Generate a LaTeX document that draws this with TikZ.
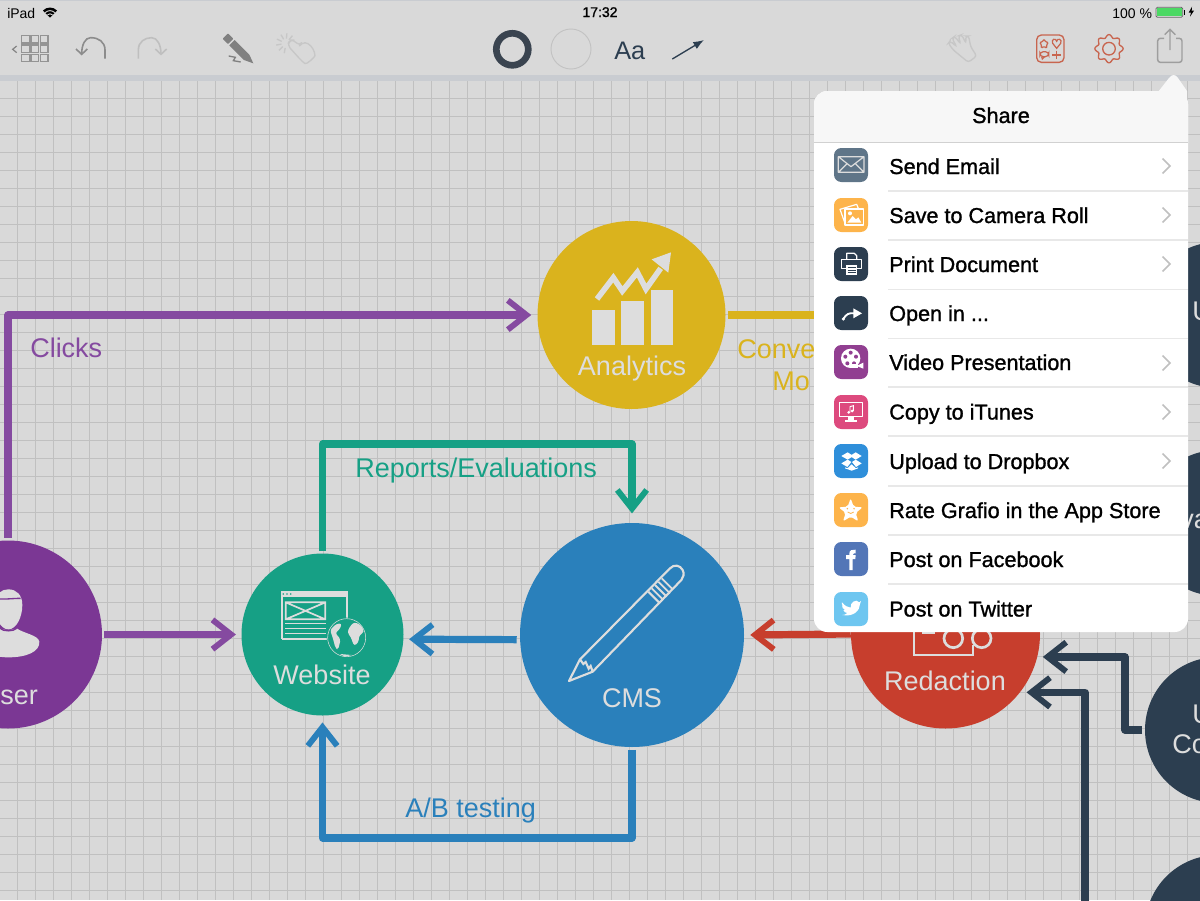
\documentclass[tikz,border=0pt]{standalone}
\usepackage{fontspec}
\setmainfont{Liberation Sans}
\newfontfamily\medf[FakeBold=1.2]{Liberation Sans}
\usetikzlibrary{arrows.meta}
\definecolor{bgc}{HTML}{D9D9D9}
\definecolor{gridc}{HTML}{C0C0C0}
\definecolor{bandc}{HTML}{C9CCD1}
\definecolor{purp}{HTML}{7B3794}
\definecolor{purl}{HTML}{854AA0}
\definecolor{gree}{HTML}{16A085}
\definecolor{yell}{HTML}{DAB31D}
\definecolor{blu}{HTML}{2A80BB}
\definecolor{redd}{HTML}{C73E2D}
\definecolor{dark}{HTML}{2C3E50}
\definecolor{lite}{HTML}{DDDDDD}
\definecolor{ored}{HTML}{C8654F}
\definecolor{orng}{HTML}{FDB44B}
\definecolor{battg}{HTML}{4CD964}
\definecolor{icmail}{HTML}{5F7588}
\definecolor{icvid}{HTML}{913F91}
\definecolor{ictun}{HTML}{DD4A7E}
\definecolor{icdrop}{HTML}{2F8FDA}
\definecolor{icfb}{HTML}{5376B7}
\definecolor{ictw}{HTML}{6EC6F0}
\definecolor{head}{HTML}{F7F7F7}
\definecolor{ringc}{HTML}{3A4450}
\tikzset{
 conn/.style={line width=5.4pt,line join=round,line cap=butt,-{Straight Barb[length=14pt,width=22pt,line width=4.4pt]}},
 plain/.style={line width=5.4pt,line join=round},
 bubble/.style={circle,inner sep=0pt},
 lab/.style={inner sep=0pt,anchor=base,text=lite,font=\fontsize{20.25}{24}\selectfont},
 clab/.style={inner sep=0pt,anchor=base west,font=\fontsize{20.25}{24}\selectfont},
 rowt/.style={inner sep=0pt,anchor=base west,text=black,font=\medf\fontsize{16.2}{18}\selectfont},
 stat/.style={inner sep=0pt,anchor=base west,text=black,font=\fontsize{10.5}{12}\selectfont},
 ico/.style={line width=.9pt,draw=white,line join=round},
 za/.style={shift={(0,0)},x=.25pt,y=-.25pt},
 zb/.style={shift={(440,0)},x=.25pt,y=-.25pt},
 zc/.style={shift={(900,0)},x=.25pt,y=-.25pt},
 zd/.style={shift={(810,140)},x=.25pt,y=-.25pt},
 ze/.style={shift={(810,385)},x=.25pt,y=-.25pt},
}
\newcommand\icbg[2]{\fill[#1,rounded corners=5.5pt] (834,#2-17) rectangle (868,#2+17);}
\newcommand\chev[1]{\draw[gridc,line width=1.3pt] (1162.5,#1-7.5) -- (1170,#1) -- (1162.5,#1+7.5);}
\begin{document}
\begin{tikzpicture}[x=.75pt,y=-.75pt]
\useasboundingbox (0,0) rectangle (1200,900);
\clip (0,0) rectangle (1200,900);
\fill[bgc] (0,0) rectangle (1200,900);
% grid
\foreach \k in {0,...,66} {\draw[gridc,line width=1pt] ({17.4+18*\k},80) -- ({17.4+18*\k},900);}
\foreach \k in {0,...,44} {\draw[gridc,line width=1pt] (0,{98.4+18*\k}) -- (1200,{98.4+18*\k});}
% toolbar
\fill[bgc] (0,0) rectangle (1200,75);
\fill[bandc] (0,75) rectangle (1200,81);
\fill[bandc] (0,0) rectangle (1200,1);
% status bar
\node[stat] (ipad) at (7,18) {iPad};
\fill[black] (50,17.5) -- (43,10.5) .. controls (47,6.5) and (53,6.5) .. (57,10.5) -- cycle;
\draw[bgc,line width=.7pt] (45.3,12.6) .. controls (48,10) and (52,10) .. (54.7,12.6);
\draw[bgc,line width=.7pt] (47.5,14.8) .. controls (49,13.5) and (51,13.5) .. (52.5,14.8);
\node[stat,anchor=base,font=\medf\fontsize{10.5}{12}\selectfont] (clock) at (600,17) {17:32};
\node[stat] (pct) at (1112,18) {100 \%};
\begin{scope}[zc]
\draw[black!60,line width=.6pt,rounded corners=1pt] (768,22) rectangle (848,52);
\fill[battg] (771,25) rectangle (845,49);
\fill[black] (851,30) rectangle (855,44);
\fill[black] (876,20) -- (866,38) -- (873,38) -- (870,50) -- (882,32) -- (875,32) -- cycle;
\end{scope}
% left toolbar icons
\begin{scope}[za]
\foreach \a in {65,93,121} {\foreach \b in {107,135,163} {
  \draw[black!42,line width=1.1pt] (\a,\b) rectangle ++(23,22);}}
\draw[black!48,line width=.9pt] (50,138) -- (38,148) -- (50,158);
\draw[black!45,line width=1.2pt] (315,176) -- (315,150) .. controls (315,125) and (295,113) .. (272,113) .. controls (255,113) and (245,135) .. (245,162);
\draw[black!45,line width=1.2pt] (228,147) -- (245,163) -- (262,147);
\draw[black!25,line width=1.2pt] (415,176) -- (415,150) .. controls (415,125) and (435,113) .. (455,113) .. controls (472,113) and (483,135) .. (483,162);
\draw[black!25,line width=1.2pt] (466,147) -- (483,163) -- (500,147);
\fill[black!50,rounded corners=.5pt] (668,116) -- (684,100) -- (700,116) -- (684,132) -- cycle;
\fill[black!50] (688,136) -- (704,120) -- (748,164) -- (760,190) -- (732,180) -- cycle;
\draw[black!50,line width=1pt] (686,168) -- (706,172) -- (700,182) -- (722,186);
\draw[black!22,line width=1pt,line join=round,rounded corners=3pt] (862,135) -- (905,183) .. controls (920,195) and (945,170) .. (945,155) -- (925,128) -- (905,128) -- (898,138) -- (882,120) -- (870,120) -- cycle;
\foreach \a in {100,135,170,205,240,275,310} {
  \draw[black!22,line width=1pt] (858,130) ++(\a:14) -- ++(\a:16);}
\end{scope}
% center toolbar
\node[bubble,minimum size=24pt,line width=5pt,draw=ringc] (ring) at (512.3,49.3) {};
\node[bubble,minimum size=30pt,line width=.7pt,draw=black!24] (fillb) at (571,49) {};
\node[clab,text=dark,font=\fontsize{19}{22}\selectfont] (aa) at (614,59.5) {Aa};
\draw[dark,line width=1pt,-{Latex[length=8pt,width=6pt]}] (672.3,59) -- (704,40);
% right toolbar
\begin{scope}[zc]
\draw[black!22,line width=1pt,rounded corners=2pt] (205,187) -- (160,150) -- (145,130) -- (150,123) -- (170,140) -- (156,115) -- (164,109) -- (182,132) -- (175,108) -- (185,104) -- (198,130) -- (197,108) -- (206,108) -- (212,140) -- (230,168) -- cycle;
\draw[ored,line width=1pt,rounded corners=3.5pt] (410,105) rectangle (492,187);
\draw[ored,line width=.9pt,rounded corners=1pt] (432,116) -- (436,126) -- (446,127) -- (439,134) -- (441,145) -- (432,139) -- (423,145) -- (425,134) -- (418,127) -- (428,126) -- cycle;
\draw[ored,line width=.9pt] (470,145) -- (458,130) .. controls (452,118) and (468,112) .. (470,124) .. controls (472,112) and (488,118) .. (482,130) -- cycle;
\draw[ored,line width=.9pt,rounded corners=2.5pt] (420,155) rectangle (446,170);
\draw[ored,line width=.9pt] (425,170) -- (427,177) -- (434,170);
\draw[ored,line width=.9pt] (469,152) -- (469,178) (456,165) -- (482,165);
\end{scope}
\begin{scope}[shift={(1109,48.7)}]
\draw[ored,line width=1pt,smooth,samples=121,domain=0:360] plot (\x:{12.6+1.5*cos(8*\x)});
\draw[ored,line width=1pt] (0,0) circle (6.3);
\end{scope}
\begin{scope}[zc]
\draw[black!38,line width=1.1pt,rounded corners=2pt] (792,115) -- (773,115) -- (773,187) -- (846,187) -- (846,115) -- (828,115);
\draw[black!38,line width=1.1pt] (810,150) -- (810,88) (794,104) -- (810,88) -- (826,104);
\end{scope}
% diagram nodes
\node[bubble,minimum size=141pt,fill=yell] (analytics) at (631.5,315) {};
\node[bubble,minimum size=168pt,fill=blu] (cms) at (632,635) {};
\node[bubble,minimum size=121.5pt,fill=gree] (website) at (322.5,634.5) {};
\node[bubble,minimum size=141pt,fill=purp] (user) at (8,634.5) {};
\node[bubble,minimum size=141.75pt,fill=redd] (redaction) at (945.5,634) {};
\node[bubble,minimum size=109.5pt,fill=dark] (ua) at (1218,315) {};
\node[bubble,minimum size=109.5pt,fill=dark] (ub) at (1218,523) {};
\node[bubble,minimum size=109.5pt,fill=dark] (uc) at (1218,730) {};
\node[bubble,minimum size=109.5pt,fill=dark] (ud) at (1218,928) {};
% connectors
\coordinate (gt) at (632,444);
\coordinate (bt) at (632,838);
\coordinate (ra) at (1125,730);
\coordinate (dz) at (1085,905);
\draw[conn,purl,shorten <=2pt,shorten >=4.5pt] (user.north) |- (analytics.west);
\draw[conn,purl,shorten <=1.5pt,shorten >=4pt] (user.east) -- (website.west);
\draw[conn,gree,shorten <=2pt,shorten >=7pt] (website.north) |- (gt) -- (cms.north);
\draw[conn,blu,shorten <=2.25pt,shorten >=4pt] ([yshift=-3.5pt]cms.west) -- ([yshift=-3.5pt]website.east);
\draw[conn,blu,shorten <=2pt,shorten >=5pt] (cms.south) -- (bt) -| (website.south);
\draw[conn,redd,shorten >=4.5pt] (redaction.west) -- (cms.east);
\draw[plain,yell,shorten <=2pt] (analytics.east) -- (ua.west);
\draw[conn,dark,shorten <=2pt,shorten >=4pt] (uc.west) -- (ra) |- (redaction.-14);
\draw[conn,dark,shorten >=4.8pt] (dz) |- (redaction.-38.6);
% connector labels
\node[clab,text=purl] (clicks) at (30,357) {Clicks};
\node[clab,text=gree] (reports) at (355,477) {Reports/Evaluations};
\node[clab,text=blu] (abt) at (405,817) {A/B testing};
\node[clab,text=yell] (conve) at (737,358.5) {Conve};
\node[clab,text=yell] (mo) at (772,390) {Mo};
% circle labels
\node[lab] (lana) at (632,375.5) {Analytics};
\node[lab] (lweb) at (322,684.5) {Website};
\node[lab] (lcms) at (632,707.5) {CMS};
\node[lab] (lred) at (945,690) {Redaction};
\node[lab,anchor=base west] (luse) at (0,704.5) {ser};
\node[lab,anchor=base west] (lua) at (1192,320) {U};
\node[lab,anchor=base west] (lub) at (1180,528) {va};
\node[lab,anchor=base west] (luc) at (1192,723) {U};
\node[lab,anchor=base west] (lud) at (1172,753) {Co};
% analytics icon
\begin{scope}[shift={(530,215)},x=.25pt,y=-.25pt]
\fill[lite] (186,285) rectangle (255,390);
\fill[lite] (273,258) rectangle (342,390);
\fill[lite] (362,225) rectangle (430,390);
\draw[lite,line width=4.2pt,line join=miter] (201,252) -- (250,188) -- (277,228) -- (322,172) -- (348,222) -- (392,160);
\fill[lite] (423,112) -- (365,133) -- (415,173) -- cycle;
\end{scope}
% website icon
\begin{scope}[shift={(230,540)},x=.25pt,y=-.25pt]
\draw[lite,line width=1.6pt] (155,296) -- (155,155) -- (350,155) -- (350,240);
\draw[lite,line width=1.6pt] (155,296) -- (295,296);
\fill[lite] (152,152) rectangle (352,172);
\foreach \a in {160,171,182} {\fill[gree] (\a,162) circle (2.6);}
\draw[lite,line width=1.3pt] (167,187) rectangle (286,238) (167,187) -- (286,238) (167,238) -- (286,187);
\draw[lite,line width=1.2pt] (165,250) -- (287,250) (165,265) -- (287,265) (165,280) -- (287,280);
\fill[gree] (350,293) circle (60);
\draw[lite,line width=.4pt] (350,293) circle (57);
\fill[lite,rounded corners=2pt] (358,262) -- (372,246) -- (393,255) -- (403,276) -- (388,285) -- (385,308) -- (372,318) -- (362,290) -- (352,278) -- cycle;
\fill[lite,rounded corners=2pt] (300,270) -- (318,252) -- (336,250) -- (328,270) -- (315,278) -- (332,298) -- (324,330) -- (316,323) -- (308,292) -- cycle;
\fill[lite] (330,342) -- (365,345) -- (345,350) -- cycle;
\end{scope}
% CMS pencil
\begin{scope}[shift={(520,520)},x=.25pt,y=-.25pt]
\draw[lite,line width=1.6pt,line join=round] (147,483) -- (180,418) -- (450,145) .. controls (462,132) and (480,135) .. (488,150) .. controls (494,162) and (490,172) .. (484,180) -- (218,455) -- cycle;
\draw[lite,line width=1.6pt] (180,418) -- (190,432) -- (197,426) -- (206,446) -- (212,438) -- (218,455);
\draw[lite,line width=1.6pt] (385,215) -- (420,250);
\draw[lite,line width=1.4pt] (395,205) -- (430,240) (405,195) -- (440,230) (415,185) -- (450,220) (425,175) -- (458,208);
\end{scope}
% user icon
\begin{scope}[shift={(0,530)},x=.25pt,y=-.25pt]
\fill[lite] (-40,350) .. controls (-50,320) and (-30,315) .. (0,295) .. controls (15,302) and (35,302) .. (50,295) .. controls (70,310) and (115,315) .. (118,335) .. controls (120,365) and (80,382) .. (25,382) .. controls (-20,382) and (-40,370) .. (-40,350) -- cycle;
\fill[lite] (25,298) .. controls (0,298) and (-15,260) .. (-15,225) .. controls (-15,190) and (5,178) .. (25,178) .. controls (50,178) and (67,195) .. (67,225) .. controls (67,260) and (50,298) .. (25,298) -- cycle;
\draw[purp,line width=1pt] (-15,205) .. controls (5,210) and (35,205) .. (62,205);
\draw[purp,line width=1pt] (0,295) .. controls (10,305) and (40,305) .. (50,295);
\end{scope}
% redaction icon
\begin{scope}[shift={(840,600)},x=.25pt,y=-.25pt]
\draw[lite,line width=1.6pt] (223,90) -- (223,165) -- (400,165) -- (400,135);
\fill[lite] (245,94) rectangle (285,101);
\draw[lite,line width=2pt] (340,115) circle (28) (425,115) circle (28);
\end{scope}
% popup
\fill[white,rounded corners=10pt] (814,91) rectangle (1188,632);
\begin{scope}
\clip (814,75) rectangle (1188,142);
\fill[head,rounded corners=10pt] (814,91) rectangle (1188,300);
\end{scope}
\fill[head] (1158,92) -- (1169,78) .. controls (1172,74) and (1175,74) .. (1178,78) -- (1187,91) -- (1187,100) -- (1158,100) -- cycle;
\draw[black!18,line width=.8pt] (814,142.5) -- (1188,142.5);
\foreach \y in {191,240,289.5,338.5,387,436,486,535,584} {
  \draw[black!9,line width=.8pt] (888,\y) -- (1188,\y);}
\node[rowt,anchor=base] (share) at (1001,123) {Share};
\node[rowt] (r1) at (889,174) {Send Email};
\node[rowt] (r2) at (889,223) {Save to Camera Roll};
\node[rowt] (r3) at (889,272) {Print Document};
\node[rowt] (r4) at (889,321) {Open in ...};
\node[rowt] (r5) at (889,370) {Video Presentation};
\node[rowt] (r6) at (889,419.5) {Copy to iTunes};
\node[rowt] (r7) at (889,469) {Upload to Dropbox};
\node[rowt] (r8) at (889,518) {Rate Grafio in the App Store};
\node[rowt] (r9) at (889,567) {Post on Facebook};
\node[rowt] (r10) at (889,616.5) {Post on Twitter};
\foreach \y in {166,215,264,363,412,461} {\chev{\y}}
% popup icons
\icbg{icmail}{165}
\icbg{orng}{215}
\icbg{dark}{264}
\icbg{dark}{313}
\icbg{icvid}{362}
\icbg{ictun}{412}
\icbg{icdrop}{461}
\icbg{orng}{510}
\icbg{icfb}{559}
\icbg{ictw}{609}
\begin{scope}[zd]
\draw[ico,draw=lite] (85,50) rectangle (162,97) (85,50) -- (123,80) -- (162,50) (85,97) -- (112,70) (162,97) -- (135,70);
\draw[ico] (105,250) -- (90,208) -- (140,193) -- (145,205);
\draw[ico] (105,207) rectangle (160,255);
\fill[white] (112,248) -- (128,228) -- (138,238) -- (145,232) -- (154,248) -- cycle;
\fill[white] (120,220) circle (6);
\draw[ico] (110,385) -- (95,385) -- (95,358) -- (155,358) -- (155,385) -- (140,385);
\draw[ico] (110,358) -- (110,340) -- (133,340) -- (140,347) -- (140,358);
\fill[white] (108,375) rectangle (142,405);
\draw[dark,line width=.6pt] (113,383) -- (137,383) (113,390) -- (137,390) (113,397) -- (137,397);
\fill[white] (100,537) circle (5);
\draw[white,line width=1.4pt] (100,537) .. controls (108,522) and (118,518) .. (132,520);
\fill[white] (130,505) -- (156,520) -- (130,535) -- cycle;
\fill[white] (122,655) circle (29);
\foreach \a/\b in {122/638,106/650,138/650,112/670,132/670} {\fill[icvid] (\a,\b) circle (6);}
\fill[white] (120,672) rectangle (145,684);
\fill[white] (140,678) -- (160,668) -- (160,686) -- cycle;
\end{scope}
\begin{scope}[ze]
\draw[ico] (89,53) rectangle (157,95);
\fill[white] (113,95) rectangle (133,105);
\fill[white] (105,105) rectangle (141,110);
\draw[white,line width=.7pt] (120,82) -- (120,65) -- (130,62) -- (130,78);
\fill[white] (116,82) circle (4.5) (126,78) circle (4.5);
\fill[white] (113,202) -- (130,213) -- (113,224) -- (94,213) -- cycle;
\fill[white] (137,202) -- (155,213) -- (137,224) -- (120,213) -- cycle;
\fill[white] (94,235) -- (113,224) -- (124,231) -- (112,246) -- cycle;
\fill[white] (155,235) -- (137,224) -- (126,231) -- (138,246) -- cycle;
\fill[white] (105,247) -- (112,250) -- (125,238) -- (138,250) -- (144,247) -- (144,250) -- (125,257) -- (105,250) -- cycle;
\fill[white,rounded corners=1.5pt] (122,340) -- (131,365) -- (158,367) -- (137,384) -- (145,409) -- (122,395) -- (99,409) -- (107,384) -- (86,367) -- (113,365) -- cycle;
\fill[orng] (112,371) circle (2.5) (132,371) circle (2.5);
\draw[orng,line width=.6pt] (113,381) .. controls (118,387) and (126,387) .. (131,381);
\fill[white] (118,555) -- (118,522) -- (108,522) -- (108,510) -- (118,510) -- (118,505) .. controls (118,495) and (128,493) .. (137,494) -- (137,505) -- (132,505) .. controls (130,505) and (128,506) .. (128,510) -- (137,510) -- (136,522) -- (128,522) -- (128,555) -- cycle;
\fill[white] (96,652) .. controls (104,662) and (112,667) .. (122,668) .. controls (120,652) and (138,640) .. (148,652) -- (153,648) -- (150,657) .. controls (150,675) and (132,697) .. (97,690) .. controls (103,690) and (108,688) .. (112,684) .. controls (106,684) and (102,680) .. (100,675) -- (105,675) .. controls (99,672) and (96,667) .. (96,661) -- (101,663) .. controls (95,660) and (94,656) .. (96,652) -- cycle;
\end{scope}
\end{tikzpicture}
\end{document}
